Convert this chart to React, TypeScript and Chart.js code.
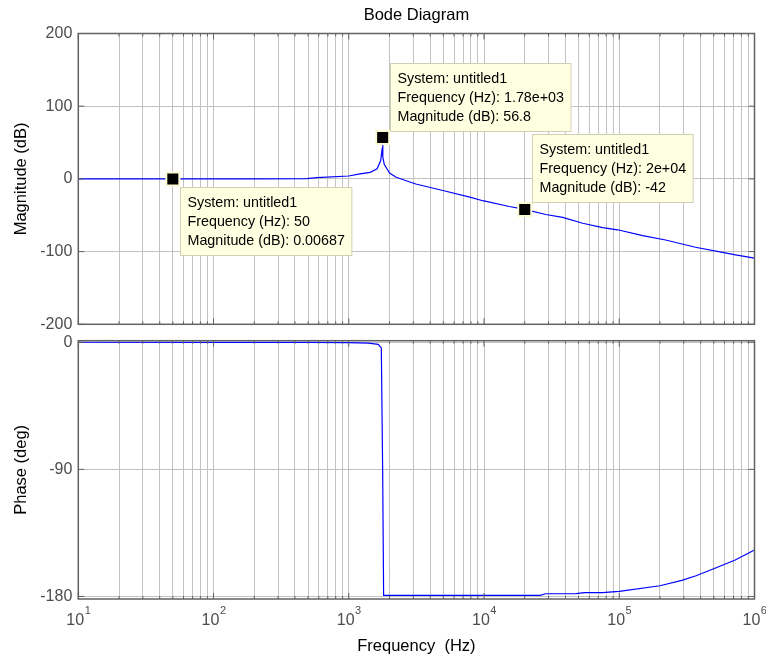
import React, { useEffect, useRef } from 'react';
import { Chart, registerables } from 'chart.js';

Chart.register(...registerables);

// ---------- data ----------
const magFreq = [10, 50, 200, 490, 580, 1000, 1210, 1440, 1620, 1720, 1770, 1780, 1790, 1830, 1885, 2000, 2240, 3130, 4960, 7850, 9790, 15400, 20000, 28600, 38200, 53700, 75400, 97300, 149000, 220000, 366000, 580000, 724000, 1000000];
const magDb = [0, 0.00687, 0.02, 0.3, 1.8, 4, 7, 9, 14, 25, 43, 48, 30, 20, 16, 8, 2.2, -7, -16, -25, -30, -38, -42, -49, -53, -61, -67, -70, -78, -84, -94, -101, -104.5, -109];

const phaseFreq = [10, 100, 500, 1000, 1400, 1650, 1740, 1780, 1810, 5000, 26000, 28500, 48000, 55000, 75000, 100000, 200000, 290000, 370000, 510000, 720000, 1000000];
const phaseDeg = [0, -0.05, -0.15, -0.3, -0.6, -1.5, -4, -90, -179.3, -179.3, -179.2, -178.1, -178, -177.3, -177.3, -176.4, -172.4, -168.6, -165.3, -160, -154.2, -147.1];

const markerFreq = [50, 1780, 20000];
const markerMag = [0.00687, 56.8, -42];
const tipSystem = 'untitled1';
const tipFreqText = ['50', '1.78e+03', '2e+04'];
const tipMagText = ['0.00687', '56.8', '-42'];

const magTicks = [-200, -100, 0, 100, 200];
const phaseTicks = [-180, -90, 0];
const decadeValues = [10, 100, 1000, 10000, 100000, 1000000];
const decadeExponents = ['1', '2', '3', '4', '5', '6'];
const minorMultipliers = [1, 2, 3, 4, 5, 6, 7, 8, 9];

// ---------- styles ----------
const FONT = "'Liberation Sans', Arial, sans-serif";
const GRID = '#c2c2c2';
const FRAME = '#626262';
const TICKTXT = '#4d4d4d';
const tipBelow = [true, false, false];

const xTickList = (() => {
  const out: number[] = [];
  for (let d = 0; d < decadeValues.length - 1; d++) {
    for (const m of minorMultipliers) out.push(decadeValues[d] * m);
  }
  out.push(decadeValues[decadeValues.length - 1]);
  return out;
})();

const isDecade = (v: number) => decadeValues.some((d) => Math.abs(d - v) / d < 1e-9);

const setXTicks = (s: any) => {
  s.ticks = xTickList.map((v) => ({ value: v, major: isDecade(v) }));
};
const setYTicks = (vals: number[]) => (s: any) => {
  s.ticks = vals.map((v) => ({ value: v }));
};
const zeroPad = (s: any) => {
  s.paddingTop = 0;
  s.paddingBottom = 0;
  s.paddingLeft = 0;
  s.paddingRight = 0;
};

const frameTicks = {
  id: 'frameTicks',
  afterDraw(chart: any) {
    const { ctx, chartArea: a, scales } = chart;
    const x = scales.x;
    const y = scales.y;
    ctx.save();
    ctx.strokeStyle = FRAME;
    ctx.lineWidth = 1;
    const line = (x1: number, y1: number, x2: number, y2: number) => {
      ctx.beginPath();
      ctx.moveTo(x1, y1);
      ctx.lineTo(x2, y2);
      ctx.stroke();
    };
    for (const t of x.ticks) {
      const px = x.getPixelForValue(t.value);
      const len = isDecade(t.value) ? 6 : 3;
      line(px, a.top, px, a.top + len);
      line(px, a.bottom, px, a.bottom - len);
    }
    for (const t of y.ticks) {
      const py = y.getPixelForValue(t.value);
      line(a.left, py, a.left + 6, py);
      line(a.right, py, a.right - 6, py);
    }
    ctx.lineWidth = 1.5;
    ctx.strokeRect(a.left, a.top, a.right - a.left, a.bottom - a.top);
    ctx.restore();
  },
};

const dataTips = {
  id: 'dataTips',
  afterDraw(chart: any) {
    const { ctx, scales } = chart;
    ctx.save();
    ctx.font = `14.3px ${FONT}`;
    ctx.textBaseline = 'middle';
    ctx.textAlign = 'left';
    markerFreq.forEach((f, i) => {
      const px = scales.x.getPixelForValue(f);
      const py = scales.y.getPixelForValue(markerMag[i]);
      const lines = [
        `System: ${tipSystem}`,
        `Frequency (Hz): ${tipFreqText[i]}`,
        `Magnitude (dB): ${tipMagText[i]}`,
      ];
      const w = Math.max(...lines.map((l) => ctx.measureText(l).width)) + 14;
      const h = 68;
      const left = Math.round(px + 7) + 0.5;
      const top = Math.round(tipBelow[i] ? py + 8 : py - 7 - h) + 0.5;
      ctx.fillStyle = '#ffffe1';
      ctx.fillRect(left, top, w, h);
      ctx.strokeStyle = '#d2d0b4';
      ctx.lineWidth = 1;
      ctx.strokeRect(left, top, w, h);
      ctx.fillStyle = '#000';
      lines.forEach((l, k) => ctx.fillText(l, left + 7, top + 16 + k * 19));
    });
    ctx.restore();
  },
};

const xLabels = {
  id: 'xLabels',
  afterDraw(chart: any) {
    const { ctx, chartArea: a, scales } = chart;
    ctx.save();
    ctx.fillStyle = TICKTXT;
    ctx.textBaseline = 'middle';
    ctx.textAlign = 'left';
    decadeValues.forEach((v, i) => {
      const px = scales.x.getPixelForValue(v);
      ctx.font = `16px ${FONT}`;
      const w1 = ctx.measureText('10').width;
      ctx.font = `11px ${FONT}`;
      const w2 = ctx.measureText(decadeExponents[i]).width;
      const start = px - (w1 + w2) / 2;
      ctx.font = `16px ${FONT}`;
      ctx.fillText('10', start, a.bottom + 22);
      ctx.font = `11px ${FONT}`;
      ctx.fillText(decadeExponents[i], start + w1 + 0.5, a.bottom + 12);
    });
    ctx.restore();
  },
};

const tickFont = { family: FONT, size: 16 };
const labelFont = { family: FONT, size: 16.5, weight: 'normal' as const };

function xScale(bottom: boolean) {
  return {
    type: 'logarithmic' as const,
    min: 10,
    max: 1000000,
    afterBuildTicks: setXTicks,
    afterFit: (s: any) => {
      s.height = bottom ? 62 : 0;
      zeroPad(s);
    },
    ticks: { display: false },
    grid: { color: GRID, drawTicks: false, lineWidth: 1 },
    border: { display: false },
    title: bottom
      ? { display: true, text: 'Frequency  (Hz)', color: '#000', font: labelFont, padding: { top: 0, bottom: 5 } }
      : { display: false },
  };
}

function yScale(min: number, max: number, ticks: number[], title: string) {
  return {
    type: 'linear' as const,
    min,
    max,
    afterBuildTicks: setYTicks(ticks),
    afterFit: (s: any) => {
      s.width = 78.3;
      zeroPad(s);
    },
    ticks: { font: tickFont, color: TICKTXT, padding: 6, callback: (v: any) => String(v) },
    grid: { color: GRID, drawTicks: false, lineWidth: 1 },
    border: { display: false },
    title: { display: true, text: title, color: '#000', font: labelFont, padding: { top: 12, bottom: 0 } },
  };
}

export default function App() {
  const c1 = useRef<HTMLCanvasElement>(null);
  const c2 = useRef<HTMLCanvasElement>(null);

  useEffect(() => {
    Chart.defaults.font.family = FONT;
    const ch1 = new Chart(c1.current as HTMLCanvasElement, {
      type: 'line',
      data: {
        datasets: [
          {
            data: markerFreq.map((f, i) => ({ x: f, y: markerMag[i] })),
            showLine: false,
            pointStyle: 'rect',
            pointRadius: 9.2,
            pointBackgroundColor: '#000000',
            pointBorderColor: '#fbfad2',
            pointBorderWidth: 2,
            borderWidth: 0,
          },
          {
            data: magFreq.map((f, i) => ({ x: f, y: magDb[i] })),
            borderColor: '#0000ff',
            borderWidth: 1.2,
            pointRadius: 0,
            tension: 0,
            fill: false,
          },
        ],
      },
      options: {
        responsive: false,
        animation: false,
        devicePixelRatio: 1,
        events: [],
        layout: { autoPadding: false, padding: { left: 0, right: 11.5, top: 0, bottom: 7.7 } },
        plugins: {
          legend: { display: false },
          tooltip: { enabled: false },
          title: {
            display: true,
            text: 'Bode Diagram',
            fullSize: false,
            color: '#000',
            font: labelFont,
            padding: { top: 5.5, bottom: 8.2 },
          },
        },
        scales: {
          x: xScale(false),
          y: yScale(-200, 200, magTicks, 'Magnitude (dB)'),
        },
      } as any,
      plugins: [frameTicks, dataTips],
    });

    const ch2 = new Chart(c2.current as HTMLCanvasElement, {
      type: 'line',
      data: {
        datasets: [
          {
            data: phaseFreq.map((f, i) => ({ x: f, y: phaseDeg[i] })),
            borderColor: '#0000ff',
            borderWidth: 1.2,
            pointRadius: 0,
            tension: 0,
            fill: false,
          },
        ],
      },
      options: {
        responsive: false,
        animation: false,
        devicePixelRatio: 1,
        events: [],
        layout: { autoPadding: false, padding: { left: 0, right: 11.5, top: 8.7, bottom: 0 } },
        plugins: {
          legend: { display: false },
          tooltip: { enabled: false },
          title: { display: false },
        },
        scales: {
          x: xScale(true),
          y: yScale(-181.8, 1.1, phaseTicks, 'Phase (deg)'),
        },
      } as any,
      plugins: [frameTicks, xLabels],
    });

    return () => {
      ch1.destroy();
      ch2.destroy();
    };
  }, []);

  return (
    <div style={{ position: 'absolute', left: 0, top: 0, width: 766, height: 661, background: '#fff', overflow: 'hidden' }}>
      <canvas ref={c1} width={766} height={332} style={{ position: 'absolute', left: 0, top: 0, width: 766, height: 332 }} />
      <canvas ref={c2} width={766} height={329} style={{ position: 'absolute', left: 0, top: 332, width: 766, height: 329 }} />
    </div>
  );
}
